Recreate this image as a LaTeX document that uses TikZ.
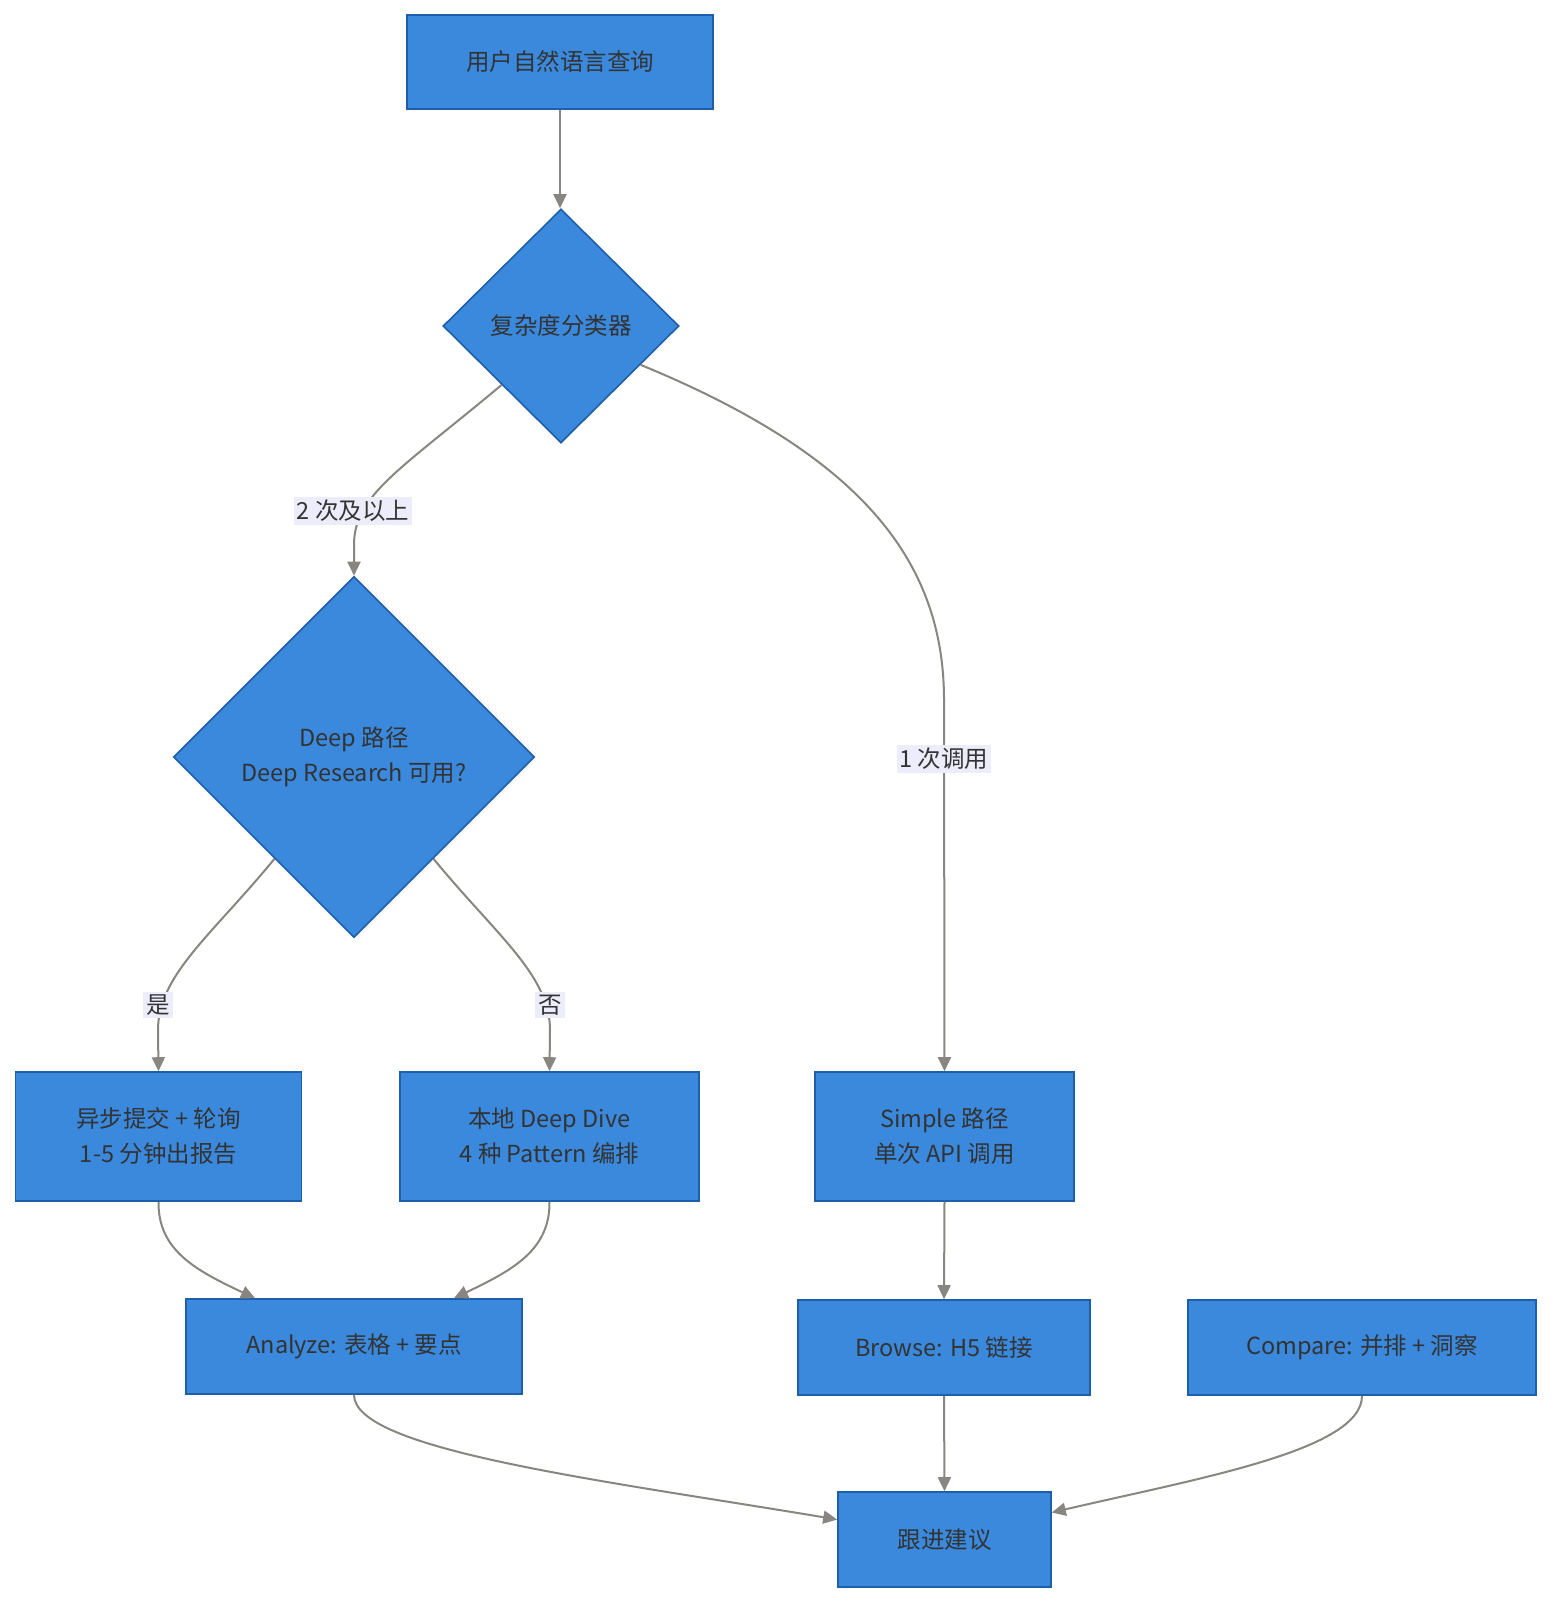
\documentclass[tikz,border=0pt]{standalone}
\usepackage{fontspec}
\setmainfont{Noto Sans CJK SC}
\usetikzlibrary{shapes.geometric,arrows.meta,calc}
\definecolor{nodefill}{HTML}{3A89DC}
\definecolor{nodeline}{HTML}{1F5FA8}
\definecolor{txt}{HTML}{333333}
\definecolor{edgec}{HTML}{888680}
\definecolor{lblbg}{HTML}{ECECFB}
\begin{document}
\begin{tikzpicture}[x=1pt,y=-1pt,
  box/.style={draw=nodeline, fill=nodefill, line width=1.6pt, text=txt,
    font=\fontsize{23.5}{35}\selectfont, align=center, inner sep=0pt},
  dia/.style={diamond, aspect=1, draw=nodeline, fill=nodefill, line width=1.6pt, text=txt,
    font=\fontsize{23.5}{35}\selectfont, align=center, inner sep=0pt},
  conn/.style={draw=edgec, line width=2pt, -{Triangle[length=14pt,width=13pt,fill=edgec]}},
  lbl/.style={fill=lblbg, text=txt, font=\fontsize{23.5}{30}\selectfont, inner sep=3pt}]
\useasboundingbox (0,0) rectangle (1568,1620);
\fill[white] (0,0) rectangle (1568,1620);

\node[box, minimum width=306pt, minimum height=94pt] (top) at (560,62) {用户自然语言查询};
\node[dia, minimum width=236pt, minimum height=234pt] (d1) at (561,326) {复杂度分类器};
\node[dia, minimum width=361pt, minimum height=361pt] (d2) at (354,757) {Deep 路径\\Deep Research 可用?};
\node[box, minimum width=286pt, minimum height=129pt] (yb) at (158.5,1136.5) {异步提交 + 轮询\\1-5 分钟出报告};
\node[box, minimum width=299pt, minimum height=129pt] (bd) at (549.5,1136.5) {本地 Deep Dive\\4 种 Pattern 编排};
\node[box, minimum width=259pt, minimum height=129pt] (sp) at (944.5,1136.5) {Simple 路径\\单次 API 调用};
\node[box, minimum width=336pt, minimum height=95pt] (an) at (354,1346.5) {Analyze: 表格 + 要点};
\node[box, minimum width=292pt, minimum height=95pt] (br) at (944,1347.5) {Browse: H5 链接};
\node[box, minimum width=348pt, minimum height=95pt] (cp) at (1362,1347.5) {Compare: 并排 + 洞察};
\node[box, minimum width=213pt, minimum height=95pt] (gj) at (944.5,1539.5) {跟进建议};

\draw[conn] (top.south) -- (top.south |- d1.north);
\draw[conn] (d1.south west) .. controls (400,470) and (354,495) .. (354,545) -- (d2.north);
\draw[conn] (d1.-26) .. controls (860,455) and (944,560) .. (944,700) -- (sp.north);
\draw[conn] (d2.232) .. controls (212,935) and (158,975) .. (158,1030) -- (yb.north);
\draw[conn] (d2.-52) .. controls (496,935) and (550,975) .. (550,1030) -- (bd.north);
\draw[conn] (yb.south) .. controls (158,1250) and (195,1270) .. ($(an.north)+(-99,0)$);
\draw[conn] (bd.south) .. controls (550,1250) and (513,1270) .. ($(an.north)+(100,0)$);
\draw[conn] (sp.south) -- (br.north);
\draw[conn] (br.south) -- (gj.north);
\draw[conn] (an.south) .. controls (354,1450) and (600,1480) .. ($(gj.west)+(0,-20)$);
\draw[conn] (cp.south) .. controls (1362,1450) and (1200,1478) .. ($(gj.east)+(0,-27)$);

\node[lbl] (l1) at (353,511) {2 次及以上};
\node[lbl] (l2) at (944,759) {1 次调用};
\node[lbl] (l3) at (158,1005) {是};
\node[lbl] (l4) at (550,1005) {否};
\end{tikzpicture}
\end{document}
